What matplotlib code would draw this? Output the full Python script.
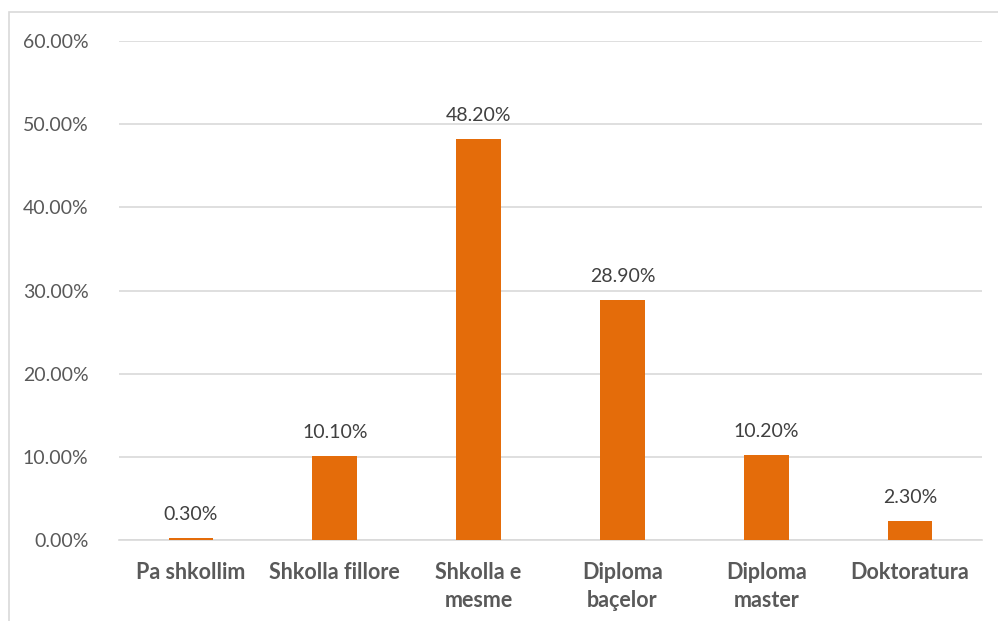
import matplotlib
matplotlib.use("Agg")
import matplotlib.pyplot as plt
from matplotlib.patches import Rectangle
from matplotlib.ticker import FuncFormatter

categories = ["Pa shkollim", "Shkolla fillore", "Shkolla e\nmesme", "Diploma\nbaçelor", "Diploma\nmaster", "Doktoratura"]
values = [0.30, 10.10, 48.20, 28.90, 10.20, 2.30]
yticks = [0, 10, 20, 30, 40, 50, 60]

plt.rcParams['font.family'] = ['Lato', 'DejaVu Sans']
W, H = 998, 621
fig = plt.figure(figsize=(W/100, H/100), dpi=100)
# chart frame (extends past right/bottom edge)
fig.patches.append(Rectangle((8.5/W, -0.1), 1.2, 1 - 11.5/H + 0.1, transform=fig.transFigure,
                             fill=False, edgecolor='#d9d9d9', linewidth=1.2))
ax = fig.add_axes([119/W, 1 - 540/H, (982-119)/W, (540-41)/H])

x = range(len(categories))
bars = ax.bar(x, values, width=0.31, color='#E46C0A', zorder=3)
for xi, v in zip(x, values):
    ax.text(xi, v + 1.8, f"{v:.2f}%", ha='center', va='bottom', fontsize=14, color='#404040')

ax.set_xlim(-0.5, len(categories) - 0.5)
ax.set_ylim(0, 60)
ax.set_yticks(yticks)
ax.yaxis.set_major_formatter(FuncFormatter(lambda v, p: f"{v:.2f}%"))
ax.grid(axis='y', color='#d9d9d9', linewidth=1.2, zorder=0)
for s in ['top', 'right', 'left']:
    ax.spines[s].set_visible(False)
ax.spines['bottom'].set_color('#d9d9d9')
ax.spines['bottom'].set_linewidth(1.2)
ax.tick_params(axis='y', length=0, pad=22, labelsize=14, labelcolor='#595959')
ax.tick_params(axis='x', length=0, pad=16, labelsize=15.5, labelcolor='#595959')
ax.set_xticks(list(x))
ax.set_xticklabels(categories, fontweight='bold', linespacing=1.4, va='top')

fig.savefig("out.png", dpi=100)
